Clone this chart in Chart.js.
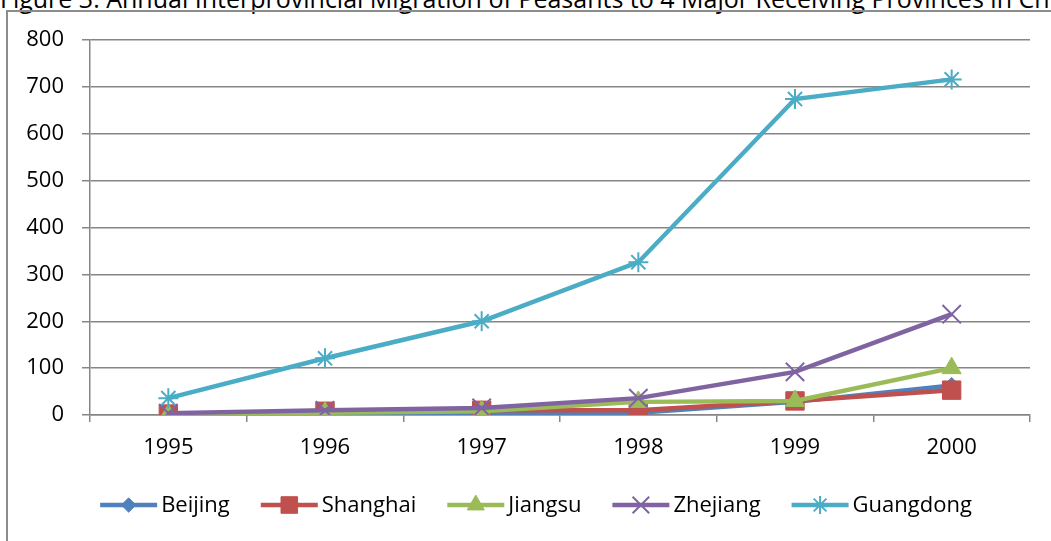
<!DOCTYPE html>
<html>
<head>
<meta charset="utf-8">
<title>Figure 3</title>
<script src="https://cdn.jsdelivr.net/npm/chart.js"></script>
<style>
  body { margin: 0; width: 1051px; height: 541px; overflow: hidden; background: #fff; font-family: "Open Sans", sans-serif; }
  #title { position: absolute; left: 0; top: -14px; font-size: 25px; line-height: 25px; white-space: nowrap; color: #000; }
  #frame { position: absolute; left: 6px; top: 10px; width: 1100px; height: 600px; border: 2px solid #8c8c8c; }
  #wrap { position: absolute; left: 0; top: 0; width: 1051px; height: 541px; }
</style>
</head>
<body>
<div id="title">Figure 3: Annual Interprovincial Migration of Peasants to 4 Major Receiving Provinces in China</div>
<div id="frame"></div>
<div id="wrap"><canvas id="chart" width="1051" height="541"></canvas></div>
<script>
// values
const years = ['1995', '1996', '1997', '1998', '1999', '2000'];
const beijing   = [1, 2, 3, 5, 28, 63];
const shanghai  = [2, 8, 10, 10, 30, 53];
const jiangsu   = [0, 5, 8, 28, 30, 100];
const zhejiang  = [4, 10, 15, 36, 92, 215];
const guangdong = [36, 121, 200, 326, 674, 716];
const yTicks = [0, 100, 200, 300, 400, 500, 600, 700, 800];

const FONT = '"Open Sans", sans-serif';
const GRID = '#868686';

function series(label, data, color, style, radius, order) {
  const hollow = style === 'crossRot' || style === 'star';
  return {
    label: label,
    data: data,
    borderColor: color,
    backgroundColor: color,
    borderWidth: 4.5,
    pointStyle: style,
    pointRadius: radius,
    pointBorderWidth: hollow ? 2 : 1,
    pointBorderColor: color,
    pointBackgroundColor: color,
    tension: 0,
    order: order
  };
}

// line + marker legend like the spreadsheet one
const lineLegend = {
  id: 'lineLegend',
  afterDraw(chart) {
    const ctx = chart.ctx;
    ctx.save();
    ctx.font = '22px ' + FONT;
    const lineW = 57, gapText = 4, gapItem = 31;
    const items = chart.data.datasets.map(ds => ({ ds: ds, w: ctx.measureText(ds.label).width }));
    const total = items.reduce((s, it) => s + lineW + gapText + it.w, 0) + gapItem * (items.length - 1);
    let x = 536 - total / 2;
    const y = 505;
    items.forEach(it => {
      const ds = it.ds;
      ctx.strokeStyle = ds.borderColor;
      ctx.lineWidth = 4.5;
      ctx.beginPath();
      ctx.moveTo(x, y);
      ctx.lineTo(x + lineW, y);
      ctx.stroke();
      ctx.fillStyle = ds.pointBackgroundColor;
      ctx.lineWidth = ds.pointBorderWidth;
      Chart.helpers.drawPoint(ctx, {
        pointStyle: ds.pointStyle, rotation: 0,
        radius: ds.pointRadius * 0.9, borderWidth: ds.pointBorderWidth
      }, x + lineW / 2, y);
      ctx.fillStyle = '#000';
      ctx.textBaseline = 'middle';
      ctx.textAlign = 'left';
      ctx.fillText(ds.label, x + lineW + gapText, y + 1);
      x += lineW + gapText + it.w + gapItem;
    });
    ctx.restore();
  }
};

new Chart(document.getElementById('chart').getContext('2d'), {
  type: 'line',
  data: {
    labels: years,
    datasets: [
      series('Beijing', beijing, '#4F81BD', 'rectRot', 8, 4),
      series('Shanghai', shanghai, '#C0504D', 'rect', 13, 3),
      series('Jiangsu', jiangsu, '#9BBB59', 'triangle', 11, 2),
      series('Zhejiang', zhejiang, '#8064A2', 'crossRot', 13, 1),
      series('Guangdong', guangdong, '#4BACC6', 'star', 10, 0)
    ]
  },
  options: {
    responsive: false,
    animation: false,
    layout: { padding: { top: 40, right: 21, left: 0, bottom: 0 } },
    plugins: { legend: { display: false }, tooltip: { enabled: false }, title: { display: false } },
    scales: {
      x: {
        offset: true,
        grid: { drawOnChartArea: false, offset: true, tickLength: 7, color: GRID, lineWidth: 1.5 },
        border: { color: GRID, width: 1.5 },
        ticks: { color: '#000', font: { family: FONT, size: 22 }, padding: 13, maxRotation: 0 },
        afterFit(scale) { scale.height = 126; }
      },
      y: {
        min: 0,
        max: 800,
        afterBuildTicks(scale) { scale.ticks = yTicks.map(v => ({ value: v })); },
        grid: { color: GRID, lineWidth: 1.5, tickLength: 8 },
        border: { color: GRID, width: 1.5 },
        ticks: { color: '#000', font: { family: FONT, size: 22 }, padding: 18 },
        afterFit(scale) { scale.width = 90; }
      }
    }
  },
  plugins: [lineLegend]
});
</script>
</body>
</html>
